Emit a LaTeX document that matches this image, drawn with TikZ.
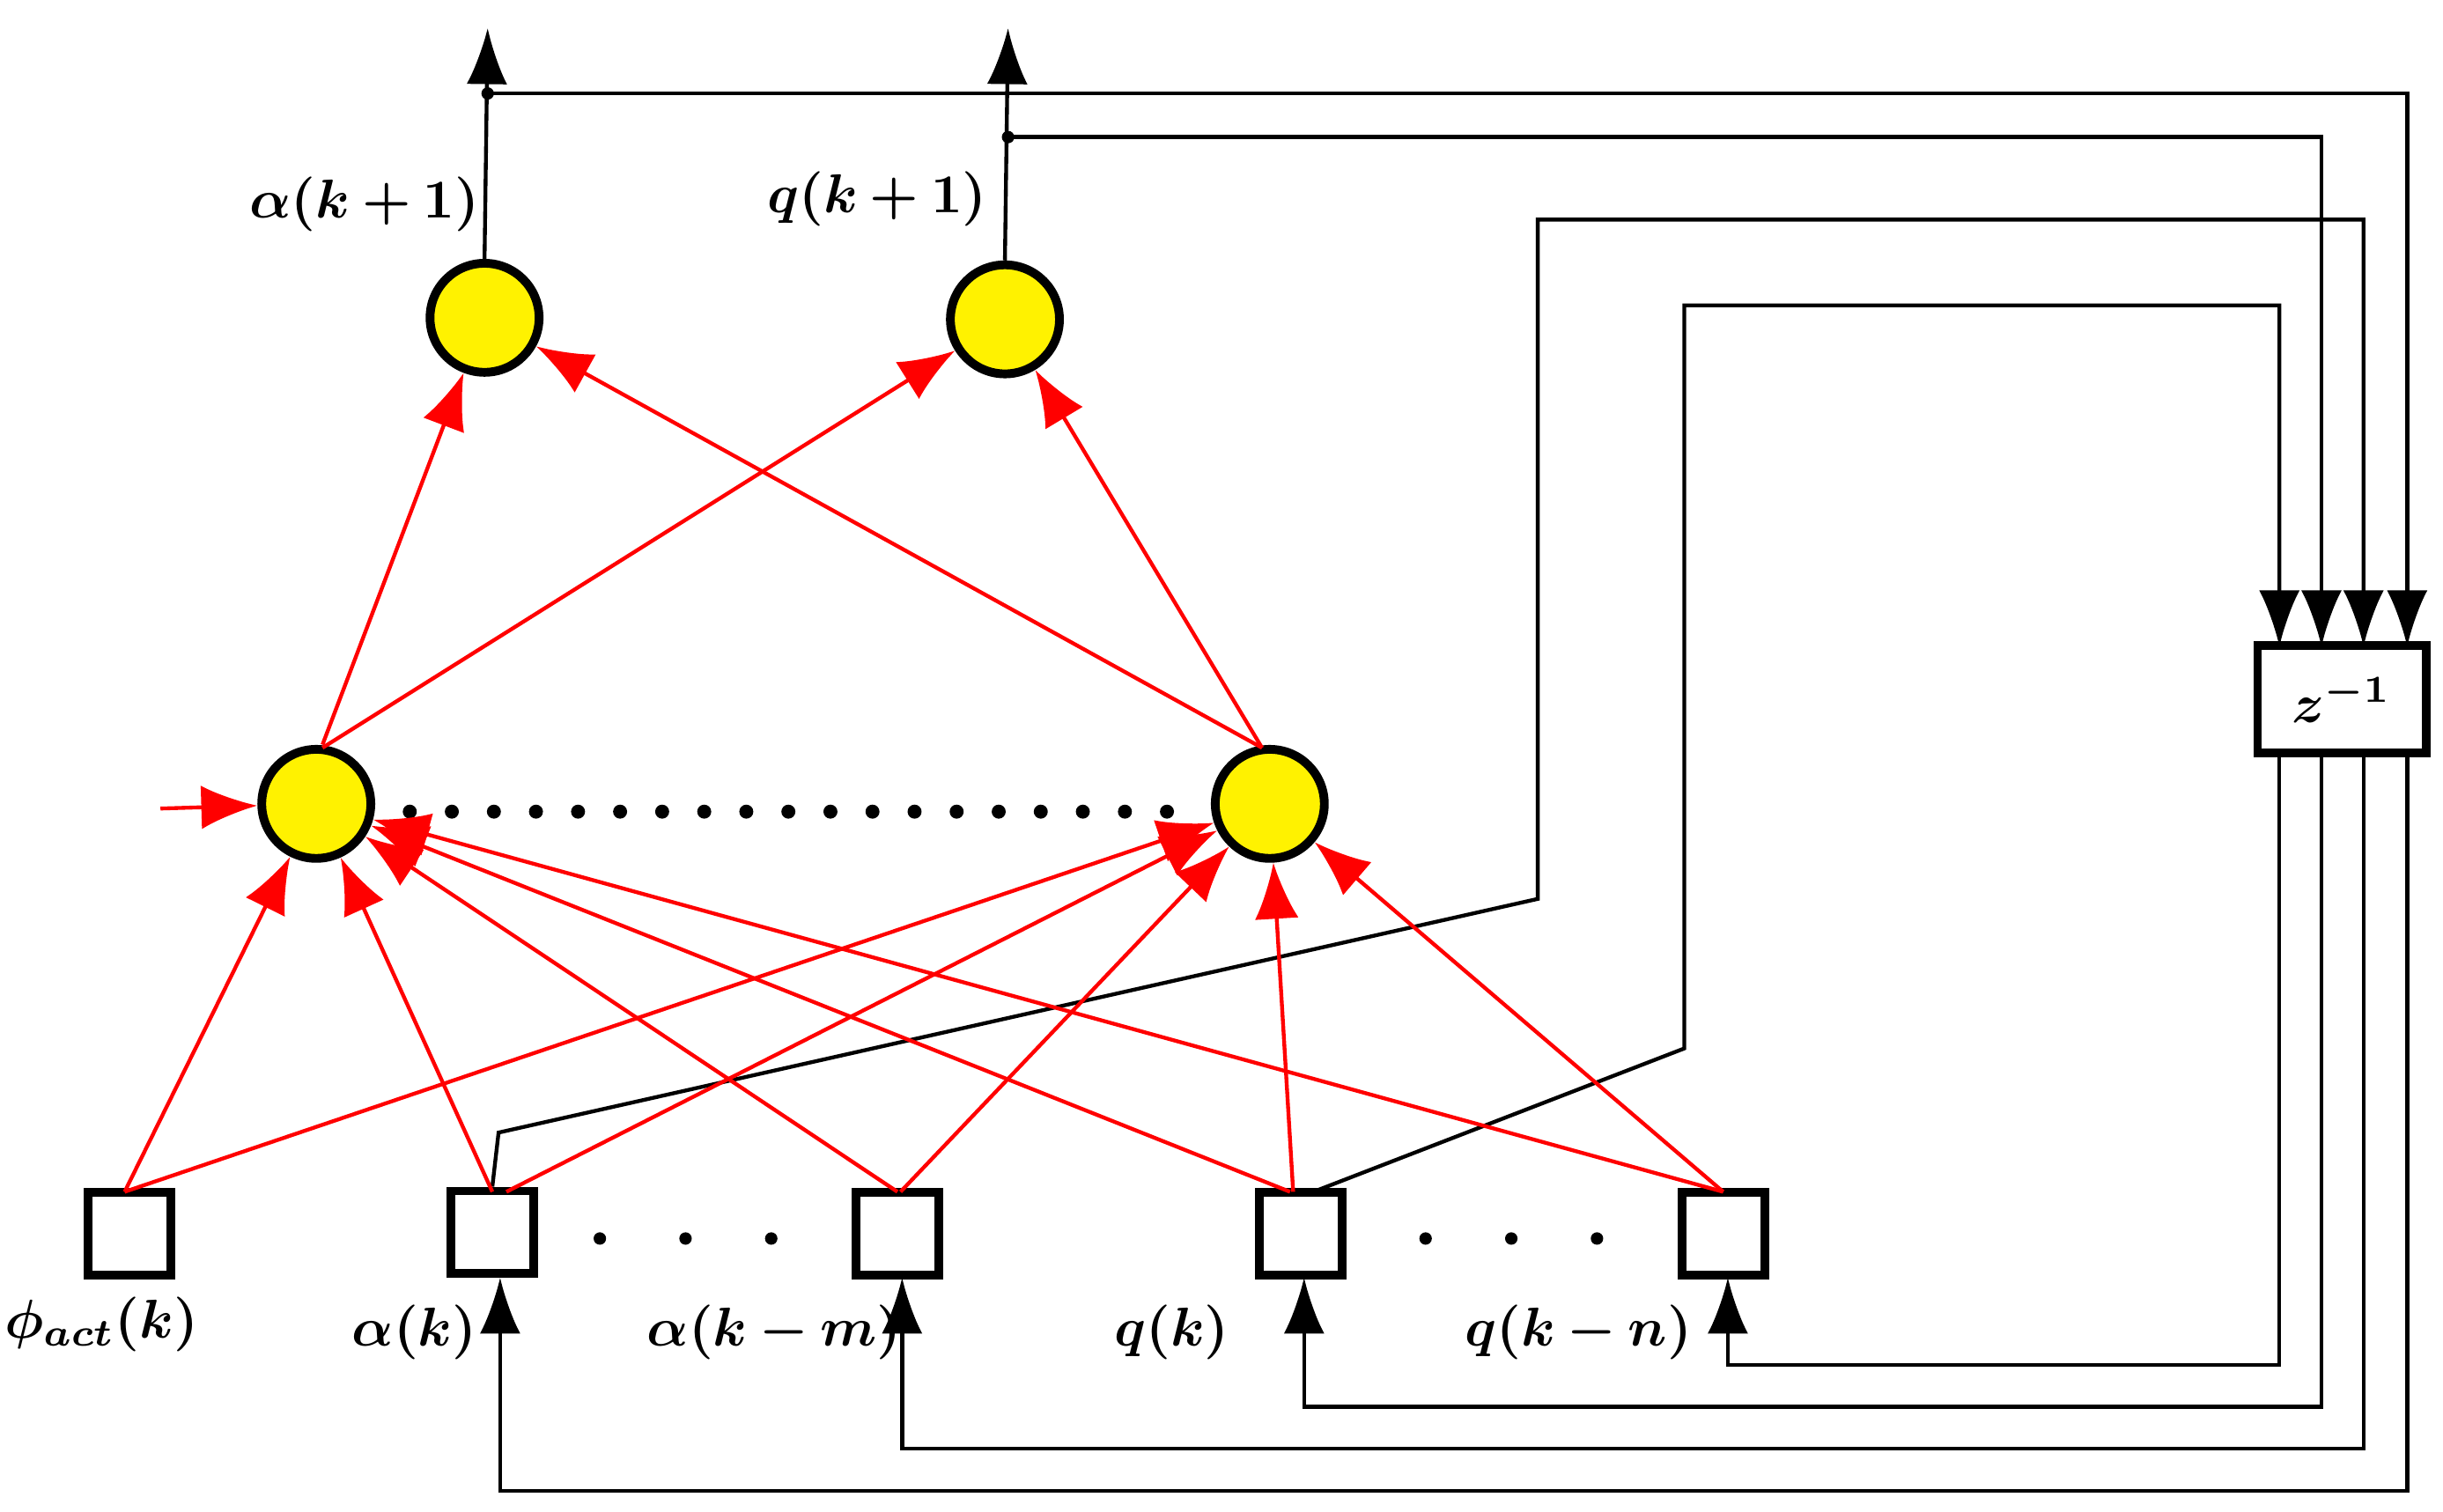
\documentclass[tikz,border=0pt]{standalone}
\usepackage{amsmath,amssymb,bm}
\usetikzlibrary{arrows.meta}
\begin{document}
\begin{tikzpicture}[x=0.1mm,y=-0.1mm,
  neuron/.style={circle,draw,line width=1.6pt,fill=yellow,minimum size=7mm,inner sep=0pt},
  inp/.style={rectangle,draw,line width=1.6pt,minimum size=5.3mm,inner sep=0pt},
  red/.style={draw=red,line width=0.7pt,-{Latex[length=3.6mm,width=2.8mm]}},
  blk/.style={draw=black,line width=0.7pt,-{Latex[length=3.6mm,width=2.6mm]}},
  lab/.style={font=\normalsize}]
\useasboundingbox (0,0) rectangle (1568,970);
\node[neuron] (o1) at (311,204) {};
\node[neuron] (o2) at (645,205) {};
\node[neuron] (h1) at (203,516) {};
\node[neuron] (h2) at (815,516) {};
\node[inp] (i1) at (83,792) {};
\node[inp] (i2) at (316,791) {};
\node[inp] (i3) at (576,792) {};
\node[inp] (i4) at (835,792) {};
\node[inp] (i5) at (1106,792) {};
\node[rectangle,draw,line width=1.6pt,minimum width=10.8mm,minimum height=6.9mm,font=\normalsize] (z) at (1503,449) {$\bm{z^{-1}}$};
\foreach \x in {263,290,...,755} \fill (\x,521) circle (4.5);
\foreach \x in {385,440,495,915,970,1025} \fill (\x,795) circle (4);
\node[lab] at (234,131) {$\bm{\alpha(k+1)}$};
\node[lab] at (563,128) {$\bm{q(k+1)}$};
\node[lab] at (65,850) {$\bm{\phi_{act}(k)}$};
\node[lab] at (266,855) {$\bm{\alpha(k)}$};
\node[lab] at (497,855) {$\bm{\alpha(k-m)}$};
\node[lab] at (752,855) {$\bm{q(k)}$};
\node[lab] at (1013,855) {$\bm{q(k-n)}$};
% outputs
\coordinate (t1) at (313,18); \coordinate (t2) at (647,18);
\coordinate (d1) at (313,60); \coordinate (d2) at (647,88);
\draw[blk] (o1.north) -- (t1);
\draw[blk] (o2.north) -- (t2);
\fill (d1) circle (4); \fill (d2) circle (4);
\draw[blk] (d1) -- (1545,60) -- (1545,415);
\draw[blk] (d2) -- (1490,88) -- (1490,415);
\draw[blk] (i2.north) -- (320,727) -- (987,577) -- (987,141) -- (1517,141) -- (1517,415);
\draw[blk] (843,765) -- (1081,673) -- (1081,196) -- (1463,196) -- (1463,415);
\draw[blk] (1463,484) -- (1463,876) -- (1109,876) -- (1109,820);
\draw[blk] (1490,484) -- (1490,903) -- (837,903) -- (837,820);
\draw[blk] (1517,484) -- (1517,930) -- (579,930) -- (579,820);
\draw[blk] (1545,484) -- (1545,957) -- (321,957) -- (321,820);
% red hidden->out
\draw[red] (207,478) -- (o1);
\draw[red] (207,480) -- (o2);
\draw[red] (810,480) -- (o1);
\draw[red] (810,480) -- (o2);
% red inputs
\coordinate (a0) at (103,519);
\draw[red] (a0) -- (h1);
\draw[red] (80,765) -- (h1);
\draw[red] (316,765) -- (h1);
\draw[red] (576,765) -- (h1);
\draw[red] (828,765) -- (h1);
\draw[red] (1106,765) -- (h1);
\draw[red] (80,765) -- (h2);
\draw[red] (325,765) -- (h2);
\draw[red] (578,765) -- (h2);
\draw[red] (830,765) -- (h2);
\draw[red] (1106,765) -- (h2);
\end{tikzpicture}
\end{document}
